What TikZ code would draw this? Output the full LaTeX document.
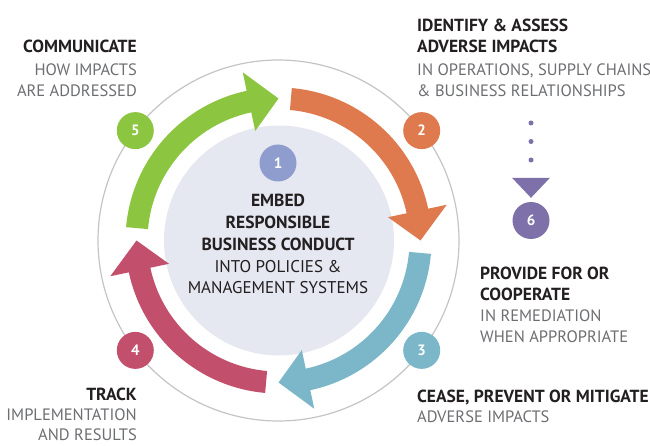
\documentclass[tikz,border=0pt]{standalone}
\usepackage{fontspec}
\setmainfont{PT Sans}
\usetikzlibrary{arrows.meta}
\definecolor{cgreen}{HTML}{8CC540}
\definecolor{corange}{HTML}{DF7A4E}
\definecolor{cteal}{HTML}{7BB7C8}
\definecolor{cred}{HTML}{C24F6C}
\definecolor{cone}{HTML}{8E9DCD}
\definecolor{csix}{HTML}{7E71A9}
\definecolor{cdisc}{HTML}{E5E7F1}
\definecolor{cring}{HTML}{C4C4C6}
\definecolor{ctitle}{HTML}{231F20}
\definecolor{csub}{HTML}{6D6E71}
\begin{document}
\begin{tikzpicture}[x=1pt,y=1pt,
  ttl/.style={inner sep=0pt,text=ctitle,font=\fontsize{17.5}{20}\selectfont\bfseries},
  sub/.style={inner sep=0pt,text=csub,font=\fontsize{16.5}{20}\selectfont},
  ctr/.style={inner sep=0pt,text=ctitle,font=\fontsize{17}{20}\selectfont},
  num/.style={circle,inner sep=0pt,minimum size=37pt,text=white,font=\fontsize{15}{18}\selectfont\bfseries},
  band/.style={draw=none}]
\useasboundingbox (0,0) rectangle (650,445);
\coordinate (C) at (278.5,204.5);
\begin{scope}[shift={(C)}]
  \draw[cring,line width=1.2pt] (0,0) circle[radius=180.5];
  \fill[cdisc] (0.5,0) circle[radius=115];
  % green arrow 5 -> 2
  \fill[cgreen] (175:131) arc[start angle=175,end angle=102,radius=131]
     -- (102:112) -- (90:142) -- (102:172) -- (102:153)
     arc[start angle=102,end angle=175,radius=153] -- cycle;
  % orange arrow 2 -> 3
  \fill[corange] (85:131) arc[start angle=85,end angle=12,radius=131]
     -- (12:112) -- (0:142) -- (12:172) -- (12:153)
     arc[start angle=12,end angle=85,radius=153] -- cycle;
  % teal arrow 3 -> 4
  \fill[cteal] (-5:131) arc[start angle=-5,end angle=-78,radius=131]
     -- (-78:112) -- (-90:142) -- (-78:172) -- (-78:153)
     arc[start angle=-78,end angle=-5,radius=153] -- cycle;
  % red arrow 4 -> 5
  \fill[cred] (-95:131) arc[start angle=-95,end angle=-168,radius=131]
     -- (-168:112) -- (-180:142) -- (-168:172) -- (-168:153)
     arc[start angle=-168,end angle=-95,radius=153] -- cycle;
  \node[num,fill=cgreen] (n5) at (142.5:180.5) {5};
  \node[num,fill=corange] (n2) at (37.5:180.5) {2};
  \node[num,fill=cteal] (n3) at (-37.5:180.5) {3};
  \node[num,fill=cred] (n4) at (-142.5:180.5) {4};
\end{scope}
\node[num,fill=cone] (n1) at (278,282) {1};
\node[num,fill=csix] (n6) at (531,224.5) {6};
\coordinate (d0) at (531,322);
\draw[csix,line width=5pt,line cap=round,dash pattern=on 0pt off 18.5pt,
  -{Triangle[width=38pt,length=20pt,line width=0pt]},shorten >=4pt] (d0) -- (n6);
% center text
\node[ttl,anchor=base] (c1) at (278,238) {EMBED};
\node[ttl,anchor=base] (c2) at (278,217) {RESPONSIBLE};
\node[ttl,anchor=base] (c3) at (278,195) {BUSINESS CONDUCT};
\node[ctr,anchor=base] (c4) at (278,173) {INTO POLICIES \&};
\node[ctr,anchor=base] (c5) at (278,152) {MANAGEMENT SYSTEMS};
% 5
\node[ttl,anchor=base east] (t5a) at (137,392) {COMMUNICATE};
\node[sub,anchor=base east] (t5b) at (137,369.5) {HOW IMPACTS};
\node[sub,anchor=base east] (t5c) at (137,348) {ARE ADDRESSED};
% 2
\node[ttl,anchor=base west] (t2a) at (417,413) {IDENTIFY \& ASSESS};
\node[ttl,anchor=base west] (t2b) at (417,392) {ADVERSE IMPACTS};
\node[sub,anchor=base west] (t2c) at (417,369.5) {IN OPERATIONS, SUPPLY CHAINS};
\node[sub,anchor=base west] (t2d) at (417,348) {\& BUSINESS RELATIONSHIPS};
% 6
\node[ttl,anchor=base west] (t6a) at (480,166) {PROVIDE FOR OR};
\node[ttl,anchor=base west] (t6b) at (480,145) {COOPERATE};
\node[sub,anchor=base west] (t6c) at (480,124) {IN REMEDIATION};
\node[sub,anchor=base west] (t6d) at (480,103) {WHEN APPROPRIATE};
% 3
\node[ttl,anchor=base west] (t3a) at (417,43) {CEASE, PREVENT OR MITIGATE};
\node[sub,anchor=base west] (t3b) at (417,23) {ADVERSE IMPACTS};
% 4
\node[ttl,anchor=base east] (t4a) at (137,45) {TRACK};
\node[sub,anchor=base east] (t4b) at (137,25) {IMPLEMENTATION};
\node[sub,anchor=base east] (t4c) at (137,5) {AND RESULTS};
\end{tikzpicture}
\end{document}
